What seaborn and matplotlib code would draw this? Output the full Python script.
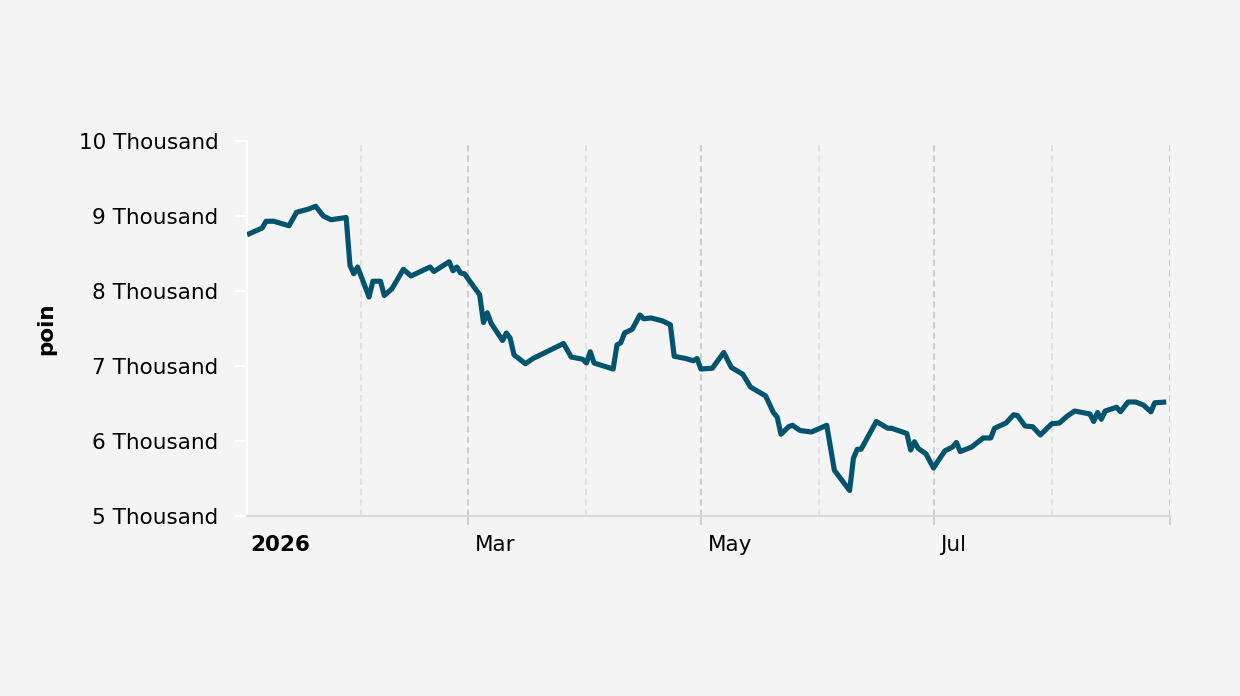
import matplotlib
matplotlib.use("Agg")
import matplotlib.pyplot as plt
import matplotlib.transforms as mtransforms
import pandas as pd
import seaborn as sns

# ---- data ----
dates = [
    "2026-01-02", "2026-01-06", "2026-01-07", "2026-01-09", "2026-01-13", "2026-01-15",
    "2026-01-18", "2026-01-20", "2026-01-22", "2026-01-24", "2026-01-28", "2026-01-29",
    "2026-01-30", "2026-01-31", "2026-02-03", "2026-02-04", "2026-02-06", "2026-02-07",
    "2026-02-09", "2026-02-12", "2026-02-14", "2026-02-19", "2026-02-20", "2026-02-24",
    "2026-02-25", "2026-02-26", "2026-02-27", "2026-02-28", "2026-03-04", "2026-03-05",
    "2026-03-06", "2026-03-07", "2026-03-10", "2026-03-11", "2026-03-12", "2026-03-13",
    "2026-03-16", "2026-03-18", "2026-03-26", "2026-03-28", "2026-03-31", "2026-04-01",
    "2026-04-02", "2026-04-03", "2026-04-08", "2026-04-09", "2026-04-10", "2026-04-11",
    "2026-04-13", "2026-04-15", "2026-04-16", "2026-04-18", "2026-04-21", "2026-04-23",
    "2026-04-24", "2026-04-27", "2026-04-29", "2026-04-30", "2026-05-01", "2026-05-04",
    "2026-05-05", "2026-05-07", "2026-05-09", "2026-05-12", "2026-05-14", "2026-05-18",
    "2026-05-20", "2026-05-21", "2026-05-22", "2026-05-24", "2026-05-25", "2026-05-27",
    "2026-05-30", "2026-06-03", "2026-06-05", "2026-06-09", "2026-06-10", "2026-06-11",
    "2026-06-12", "2026-06-16", "2026-06-19", "2026-06-20", "2026-06-24", "2026-06-25",
    "2026-06-26", "2026-06-27", "2026-06-29", "2026-07-01", "2026-07-02", "2026-07-04",
    "2026-07-06", "2026-07-07", "2026-07-08", "2026-07-11", "2026-07-14", "2026-07-16",
    "2026-07-17", "2026-07-20", "2026-07-22", "2026-07-23", "2026-07-25", "2026-07-27",
    "2026-07-29", "2026-08-01", "2026-08-03", "2026-08-05", "2026-08-07", "2026-08-11",
    "2026-08-12", "2026-08-13", "2026-08-14", "2026-08-15", "2026-08-18", "2026-08-19",
    "2026-08-21", "2026-08-23", "2026-08-25", "2026-08-27", "2026-08-28", "2026-08-31",
]
values = [
    8750, 8840, 8930, 8930, 8870, 9050,
    9090, 9130, 9000, 8950, 8980, 8340,
    8230, 8320, 7920, 8130, 8130, 7940,
    8030, 8290, 8200, 8320, 8260, 8390,
    8270, 8320, 8240, 8230, 7950, 7580,
    7710, 7570, 7340, 7440, 7370, 7150,
    7030, 7100, 7300, 7120, 7090, 7040,
    7190, 7040, 6960, 7280, 7310, 7440,
    7490, 7680, 7630, 7640, 7600, 7550,
    7130, 7100, 7070, 7100, 6960, 6970,
    7040, 7180, 6980, 6890, 6720, 6600,
    6380, 6320, 6090, 6190, 6210, 6140,
    6120, 6210, 5610, 5340, 5770, 5890,
    5890, 6260, 6170, 6170, 6100, 5880,
    5990, 5900, 5830, 5640, 5720, 5870,
    5920, 5980, 5860, 5920, 6040, 6040,
    6170, 6240, 6350, 6340, 6200, 6190,
    6080, 6230, 6240, 6330, 6400, 6360,
    6260, 6380, 6290, 6400, 6450, 6390,
    6520, 6520, 6480, 6390, 6510, 6520,
]
y_ticks = [5000, 6000, 7000, 8000, 9000, 10000]
y_labels = ["5 Thousand", "6 Thousand", "7 Thousand", "8 Thousand", "9 Thousand", "10 Thousand"]
x_major = ["2026-01-02", "2026-03-01", "2026-05-01", "2026-07-01", "2026-09-01"]
x_major_labels = ["2026", "Mar", "May", "Jul", ""]
x_minor = ["2026-02-01", "2026-04-01", "2026-06-01", "2026-08-01"]
y_title = "poin"

# ---- styling ----
BG = "#f4f4f4"
LINE = "#01536e"
TXT = "#000000"
sns.set_theme(style="white")
plt.rcParams["font.family"] = ["DejaVu Sans"]

df = pd.DataFrame({"date": pd.to_datetime(dates), "value": values})

fig = plt.figure(figsize=(12.4, 6.96), dpi=100, facecolor=BG)
ax = fig.add_axes([247 / 1240, 1 - 516 / 696, (1170 - 247) / 1240, (516 - 141) / 696])
ax.set_facecolor(BG)

sns.lineplot(data=df, x="date", y="value", ax=ax, color=LINE, linewidth=3.7,
             solid_joinstyle="round", solid_capstyle="butt", zorder=5)

ax.set_xlim(pd.Timestamp("2026-01-02"), pd.Timestamp("2026-09-01"))
ax.set_ylim(5000, 10000)

# vertical dashed month gridlines
for d in x_minor:
    ax.axvline(pd.Timestamp(d), color="#e0e0e0", linewidth=1.5, linestyle=(0, (3, 2)), zorder=1)
for d in x_major[1:]:
    ax.axvline(pd.Timestamp(d), color="#cdcdcd", linewidth=1.5, linestyle=(0, (3, 2)), zorder=1)

# y axis
ax.set_yticks(y_ticks)
ax.set_yticklabels(y_labels, fontsize=15.5, color=TXT)
ax.tick_params(axis="y", which="major", length=9, width=1.5, color="white", pad=11.5, left=True)

# x axis
ax.set_xticks([pd.Timestamp(d) for d in x_major])
ax.set_xticklabels(x_major_labels, fontsize=15.5, color=TXT)
ax.tick_params(axis="x", which="major", length=6.5, width=1.5, color="#d0d0d0", pad=7.5, bottom=True)
ax.xaxis.get_major_ticks()[0].tick1line.set_visible(False)
for i, lab in enumerate(ax.get_xticklabels()):
    lab.set_horizontalalignment("left")
    dx = 2 / 72 if i == 0 else 5 / 72
    lab.set_transform(lab.get_transform() + mtransforms.ScaledTranslation(dx, 0, fig.dpi_scale_trans))
    if i == 0:
        lab.set_fontweight("bold")

# spines
for s in ["top", "right"]:
    ax.spines[s].set_visible(False)
ax.spines["left"].set_color("white")
ax.spines["left"].set_linewidth(1.6)
ax.spines["bottom"].set_color("#d9d9d9")
ax.spines["bottom"].set_linewidth(1.6)

ax.set_xlabel("")
ax.set_ylabel(y_title, fontsize=15.5, fontweight="bold", color=TXT)
ax.yaxis.set_label_coords(-0.207, 0.5)
ax.grid(False)

fig.savefig("out.png", dpi=100, facecolor=BG)
